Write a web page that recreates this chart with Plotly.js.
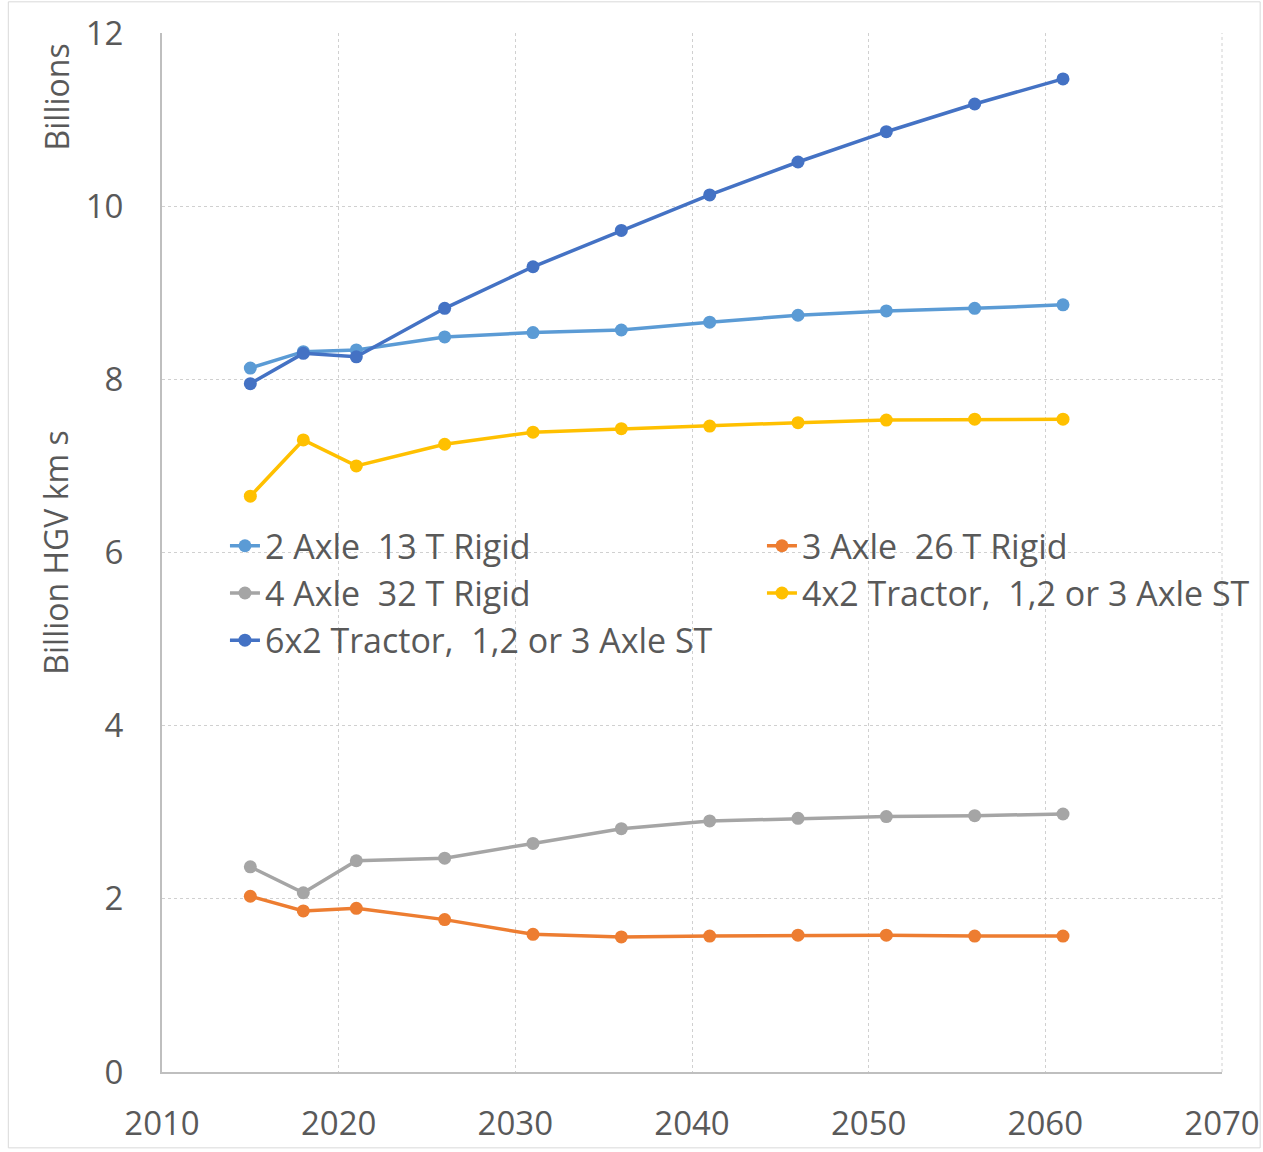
<!DOCTYPE html>
<html>
<head>
<meta charset="utf-8">
<script src="https://cdn.plot.ly/plotly-3.0.1.min.js"></script>
<style>html,body{margin:0;padding:0;background:#fff;}#chart{width:1263px;height:1152px;}</style>
</head>
<body>
<div id="chart"></div>
<script>
const years = [2015, 2018, 2021, 2026, 2031, 2036, 2041, 2046, 2051, 2056, 2061];
const seriesNames = [
  "2 Axle  13 T Rigid",
  "3 Axle  26 T Rigid",
  "4 Axle  32 T Rigid",
  "4x2 Tractor,  1,2 or 3 Axle ST",
  "6x2 Tractor,  1,2 or 3 Axle ST"
];
const axle2Rigid13 = [8.13, 8.32, 8.34, 8.49, 8.54, 8.57, 8.66, 8.74, 8.79, 8.82, 8.86];
const axle3Rigid26 = [2.03, 1.86, 1.89, 1.76, 1.59, 1.56, 1.57, 1.58, 1.58, 1.57, 1.57];
const axle4Rigid32 = [2.37, 2.07, 2.44, 2.47, 2.64, 2.81, 2.90, 2.93, 2.95, 2.96, 2.98];
const tractor4x2 = [6.65, 7.30, 7.00, 7.25, 7.39, 7.43, 7.46, 7.50, 7.53, 7.54, 7.54];
const tractor6x2 = [7.95, 8.30, 8.26, 8.82, 9.30, 9.72, 10.13, 10.51, 10.86, 11.18, 11.47];
const xTicks = [2010, 2020, 2030, 2040, 2050, 2060, 2070];
const yTicks = [0, 2, 4, 6, 8, 10, 12];

const colors = ["#5B9BD5", "#ED7D31", "#A5A5A5", "#FFC000", "#4472C4"];
const values = [axle2Rigid13, axle3Rigid26, axle4Rigid32, tractor4x2, tractor6x2];
// legend columns: left column = legend, right column = legend2
const legendIds = ["legend", "legend2", "legend", "legend2", "legend"];

const traces = values.map((v, i) => ({
  x: years, y: v, name: seriesNames[i], type: "scatter", mode: "lines+markers",
  legend: legendIds[i],
  line: {color: colors[i], width: 3.5},
  marker: {color: colors[i], size: 13}
}));

const textColor = "#595959";
const font = "'Open Sans', 'Noto Sans', sans-serif";

const legendBase = {
  orientation: "v", xanchor: "left", y: 0.534, yanchor: "top",
  bgcolor: "rgba(0,0,0,0)", font: {size: 34, color: textColor},
  tracegroupgap: 0, traceorder: "normal"
};

const layout = {
  width: 1263, height: 1152,
  margin: {l: 162, r: 41, t: 33, b: 80, autoexpand: false},
  paper_bgcolor: "#ffffff", plot_bgcolor: "#ffffff",
  font: {family: font, color: textColor, size: 33},
  showlegend: true,
  legend: Object.assign({}, legendBase, {x: 0.0594}),
  legend2: Object.assign({}, legendBase, {x: 0.566}),
  xaxis: {
    range: [2010, 2070], tickvals: xTicks, ticktext: xTicks.map(String),
    showgrid: true, gridcolor: "#d0d0d0", griddash: "dot", gridwidth: 1,
    showline: true, linecolor: "#bfbfbf", linewidth: 2, zeroline: false,
    ticks: "", ticklabelstandoff: 21, tickfont: {size: 33, color: textColor}
  },
  yaxis: {
    range: [0, 12], tickvals: yTicks, ticktext: yTicks.map(String),
    showgrid: true, gridcolor: "#d0d0d0", griddash: "dot", gridwidth: 1,
    showline: true, linecolor: "#bfbfbf", linewidth: 2, zeroline: false,
    ticks: "", ticklabelstandoff: 30, tickfont: {size: 33, color: textColor},
    title: {text: "Billion HGV km s", font: {size: 32, color: textColor}, standoff: 7}
  },
  shapes: [
    {type: "line", xref: "paper", yref: "paper", x0: 1, x1: 1, y0: 0, y1: 1,
     line: {color: "#d0d0d0", width: 1, dash: "dot"}},
    {type: "rect", xref: "paper", yref: "paper", x0: -0.145, x1: 1.036, y0: -0.073, y1: 1.03,
     line: {color: "#d9d9d9", width: 1}}
  ],
  annotations: [
    {text: "Billions", xref: "paper", yref: "paper", x: -0.1, y: 0.938,
     xanchor: "center", yanchor: "middle", textangle: -90, showarrow: false,
     font: {size: 32, color: textColor}}
  ]
};

Plotly.newPlot("chart", traces, layout, {displayModeBar: false, staticPlot: true});
</script>
</body>
</html>
